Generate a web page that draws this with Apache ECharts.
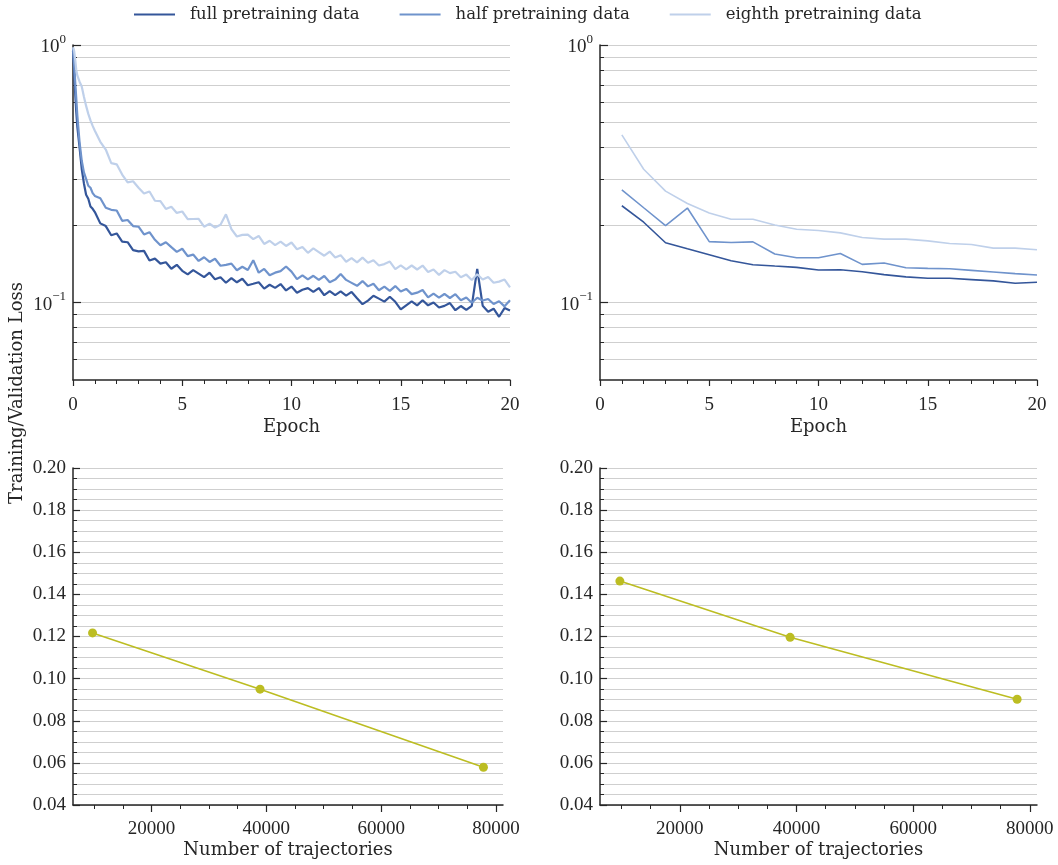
<!DOCTYPE html>
<html>
<head>
<meta charset="utf-8">
<script src="https://cdn.jsdelivr.net/npm/echarts@6/dist/echarts.min.js"></script>
<style>html,body{margin:0;padding:0;background:#fff}#chart{width:1058px;height:865px}</style>
</head>
<body>
<div id="chart"></div>
<script>
// ---------------- data ----------------
const seriesNames = ['full pretraining data', 'half pretraining data', 'eighth pretraining data'];

// training loss (top-left), x = epoch
const epochsFine = [0,0.05,0.1,0.15,0.2,0.3,0.4,0.5,0.6,0.7,0.8,0.9,
  1,1.25,1.5,1.75,2,2.25,2.5,2.75,3,3.25,3.5,3.75,4,4.25,4.5,4.75,5,5.25,5.5,5.75,
  6,6.25,6.5,6.75,7,7.25,7.5,7.75,8,8.25,8.5,8.75,9,9.25,9.5,9.75,10,10.25,10.5,10.75,
  11,11.25,11.5,11.75,12,12.25,12.5,12.75,13,13.25,13.5,13.75,14,14.25,14.5,14.75,
  15,15.25,15.5,15.75,16,16.25,16.5,16.75,17,17.25,17.5,17.75,18,18.25,18.5,18.75,
  19,19.25,19.5,19.75,20];
const fullTrain = [0.95,0.8,0.65,0.55,0.48,0.40,0.33,0.29,0.262,0.253,0.236,0.231,
  0.2244,0.2029,0.1980,0.1824,0.1854,0.1723,0.1714,0.1597,0.158,0.1586,
  0.1455,0.1480,0.1416,0.1433,0.1352,0.1401,0.1327,0.1285,0.1336,0.1295,
  0.1254,0.1305,0.1230,0.1254,0.1193,0.1244,0.1198,0.1236,0.1166,0.1182,
  0.1199,0.1132,0.1172,0.1140,0.1179,0.1114,0.1153,0.1091,0.112,0.1137,
  0.1099,0.1138,0.1067,0.1106,0.1068,0.1104,0.1064,0.1099,0.1039,0.0985,
  0.1017,0.1062,0.1035,0.1008,0.1053,0.1006,0.094,0.0975,0.1010,0.0975,
  0.1020,0.0975,0.1000,0.0956,0.097,0.0995,0.0933,0.0969,0.0936,0.0970,
  0.135,0.0972,0.0921,0.0946,0.088,0.0951,0.093];
const halfTrain = [0.97,0.85,0.72,0.62,0.53,0.42,0.355,0.32,0.302,0.284,0.279,0.266,
  0.2594,0.2540,0.2332,0.229,0.2276,0.2076,0.2091,0.198,0.1969,0.1838,
  0.1875,0.1752,0.1668,0.1714,0.164,0.1573,0.1617,0.1514,0.1535,0.1450,
  0.1499,0.1437,0.1478,0.1389,0.140,0.1415,0.1334,0.1376,0.1337,0.146,
  0.1305,0.1350,0.1276,0.1306,0.1324,0.138,0.1318,0.1233,0.1275,0.1229,
  0.1270,0.1225,0.1267,0.1198,0.1227,0.129,0.1224,0.1192,0.1161,0.1211,
  0.1155,0.1182,0.1116,0.1152,0.1109,0.1158,0.1104,0.1129,0.1078,0.1092,
  0.1118,0.1046,0.1082,0.1044,0.1079,0.1041,0.1077,0.1020,0.1045,0.0998,
  0.1043,0.1018,0.1032,0.0987,0.1011,0.0966,0.1020];
const eighthTrain = [0.98,0.95,0.88,0.80,0.76,0.72,0.69,0.63,0.58,0.54,0.51,0.485,
  0.4646,0.4208,0.3927,0.3479,0.3440,0.3138,0.2929,0.2958,0.279,0.2651,
  0.2699,0.2484,0.2475,0.2309,0.2356,0.2228,0.2256,0.2107,0.211,0.2111,
  0.1969,0.2022,0.1955,0.2005,0.22,0.1928,0.1804,0.183,0.1836,0.1762,
  0.1813,0.1688,0.1737,0.1671,0.1724,0.1658,0.1710,0.1609,0.1641,0.1559,
  0.1622,0.157,0.1519,0.1576,0.1495,0.1527,0.1440,0.1487,0.1431,0.1494,
  0.1426,0.1459,0.1392,0.141,0.1442,0.1348,0.1394,0.1345,0.1392,0.1343,
  0.1391,0.1313,0.1343,0.1280,0.1336,0.130,0.1316,0.1254,0.1283,0.1222,
  0.1288,0.1228,0.1255,0.1193,0.1205,0.1228,0.1145];

// validation loss (top-right)
const epochsVal = [1,2,3,4,5,6,7,8,9,10,11,12,13,14,15,16,17,18,19,20];
const fullVal = [0.2375,0.205,0.1706,0.1616,0.1532,0.1453,0.1402,0.1385,0.1369,0.1337,0.1341,0.1317,0.1283,0.1257,0.1242,0.1242,0.1227,0.1213,0.1188,0.1198];
const halfVal = [0.274,0.2333,0.1988,0.2327,0.1724,0.171,0.172,0.1542,0.1492,0.1492,0.155,0.1406,0.1423,0.1365,0.1357,0.1353,0.1333,0.1313,0.1294,0.1279];
const eighthVal = [0.4478,0.3292,0.2706,0.2425,0.2226,0.2104,0.2104,0.2001,0.1925,0.1903,0.1864,0.1788,0.1762,0.1762,0.1735,0.1694,0.1679,0.1626,0.1626,0.1602];

// loss vs number of trajectories (bottom)
const trajectories = [9728, 38912, 77824];
const lossLeft = [0.1217, 0.095, 0.0579];
const lossRight = [0.1463, 0.1196, 0.0902];

// tick values
const logMajorTicks = [0.1, 1];
const logMinorTicks = [0.06,0.07,0.08,0.09,0.2,0.3,0.4,0.5,0.6,0.7,0.8,0.9];
const trajMajorTicks = [20000, 40000, 60000, 80000];
const trajMinorTicks = [10000,15000,25000,30000,35000,45000,50000,55000,65000,70000,75000];

// ---------------- style ----------------
const colors = ['#34569a', '#6f93cc', '#bfd0ea'];
const olive = '#bcbd22';
const txt = '#262626';
const gridCol = '#cfcfcf';
const numFont = 'Liberation Serif';
const wordFont = 'DejaVu Serif';

const pairs = (xs, ys) => xs.map((x, i) => [x, ys[i]]);

function epochAxis(gi) {
  return {
    type: 'value', gridIndex: gi, min: 0, max: 20, interval: 5, position: 'bottom',
    name: 'Epoch', nameLocation: 'middle', nameGap: 38,
    nameTextStyle: { fontFamily: wordFont, fontSize: 18, color: txt },
    axisLine: { lineStyle: { color: txt, width: 1.5 } },
    axisTick: { length: 6, lineStyle: { color: txt, width: 1.2 } },
    minorTick: { show: true, splitNumber: 5, length: 4, lineStyle: { color: txt, width: 1 } },
    axisLabel: { margin: 16, fontFamily: numFont, fontSize: 19, color: txt },
    splitLine: { show: false }
  };
}
function trajAxis(gi) {
  return {
    type: 'value', gridIndex: gi, min: 6323, max: 81229, position: 'bottom',
    name: 'Number of trajectories', nameLocation: 'middle', nameGap: 36,
    nameTextStyle: { fontFamily: wordFont, fontSize: 18, color: txt },
    axisLine: { lineStyle: { color: txt, width: 1.5 } },
    axisTick: { length: 7, customValues: trajMajorTicks, lineStyle: { color: txt, width: 1.2 } },
    axisLabel: { margin: 15, customValues: trajMajorTicks, fontFamily: numFont, fontSize: 19, color: txt,
      formatter: v => String(Math.round(v)) },
    splitLine: { show: false }
  };
}
function trajMinorAxis(gi) {
  return {
    type: 'value', gridIndex: gi, min: 6323, max: 81229, position: 'bottom',
    axisLine: { show: false },
    axisTick: { length: 4, customValues: trajMinorTicks, lineStyle: { color: txt, width: 1 } },
    axisLabel: { show: false },
    splitLine: { show: false }
  };
}
function logAxis(gi) {
  return {
    type: 'log', logBase: 10, gridIndex: gi, min: 0.05, max: 1, position: 'left',
    axisLine: { show: true, lineStyle: { color: txt, width: 1.5 } },
    axisTick: { inside: true, length: 8, customValues: logMajorTicks, lineStyle: { color: txt, width: 1.2 } },
    axisLabel: {
      margin: 7, customValues: logMajorTicks, color: txt,
      formatter: v => v > 0.5 ? '{b|10}{s|0}' : '{b|10}{s|\u22121}',
      rich: {
        b: { fontFamily: numFont, fontSize: 19, color: txt, lineHeight: 24, verticalAlign: 'bottom' },
        s: { fontFamily: numFont, fontSize: 13, color: txt, lineHeight: 14, verticalAlign: 'top' }
      }
    },
    splitLine: { show: true, lineStyle: { color: gridCol, width: 1 } }
  };
}
function logMinorAxis(gi) {
  return {
    type: 'log', logBase: 10, gridIndex: gi, min: 0.05, max: 1, position: 'left',
    axisLine: { show: false },
    axisTick: { inside: true, length: 4, customValues: logMinorTicks, lineStyle: { color: txt, width: 1 } },
    axisLabel: { show: false },
    splitLine: { show: true, lineStyle: { color: gridCol, width: 1 } }
  };
}
function lossAxis(gi) {
  return {
    type: 'value', gridIndex: gi, min: 0.04, max: 0.20, interval: 0.02, position: 'left',
    axisLine: { show: true, lineStyle: { color: txt, width: 1.5 } },
    axisTick: { inside: true, length: 7, lineStyle: { color: txt, width: 1.2 } },
    minorTick: { show: true, splitNumber: 4, length: 4, lineStyle: { color: txt, width: 1 } },
    axisLabel: { margin: 7, fontFamily: numFont, fontSize: 19, color: txt, formatter: v => v.toFixed(2) },
    splitLine: { show: true, lineStyle: { color: gridCol, width: 1 } },
    minorSplitLine: { show: true, lineStyle: { color: gridCol, width: 1 } }
  };
}

const chart = echarts.init(document.getElementById('chart'), null, { renderer: 'canvas' });
const trainSets = [fullTrain, halfTrain, eighthTrain];
const valSets = [fullVal, halfVal, eighthVal];

const series = [];
trainSets.forEach((d, k) => series.push({
  name: seriesNames[k], type: 'line', xAxisIndex: 0, yAxisIndex: 0,
  data: pairs(epochsFine, d), symbol: 'none', color: colors[k],
  lineStyle: { width: 2.2, color: colors[k] }, z: 3 + k
}));
valSets.forEach((d, k) => series.push({
  name: seriesNames[k], type: 'line', xAxisIndex: 1, yAxisIndex: 1,
  data: pairs(epochsVal, d), symbol: 'none', color: colors[k],
  lineStyle: { width: 1.6, color: colors[k] }, z: 3 + k
}));
series.push({
  type: 'line', xAxisIndex: 2, yAxisIndex: 2, data: pairs(trajectories, lossLeft),
  symbol: 'circle', symbolSize: 9, color: olive,
  lineStyle: { width: 1.6, color: olive }, itemStyle: { color: olive }
});
series.push({
  type: 'line', xAxisIndex: 3, yAxisIndex: 3, data: pairs(trajectories, lossRight),
  symbol: 'circle', symbolSize: 9, color: olive,
  lineStyle: { width: 1.6, color: olive }, itemStyle: { color: olive }
});

chart.setOption({
  animation: false,
  backgroundColor: '#ffffff',
  legend: {
    data: seriesNames.map((n, k) => ({ name: n, icon: 'rect', itemStyle: { color: colors[k] } })),
    top: 6, left: 134, padding: 0, itemWidth: 41, itemHeight: 2, itemGap: 40,
    textStyle: { fontFamily: wordFont, fontSize: 16.5, color: txt, padding: [0, 0, 0, 10] }
  },
  graphic: [{
    type: 'text', x: 17, y: 393, rotation: Math.PI / 2,
    style: { text: 'Training/Validation Loss', font: '18px "DejaVu Serif"', fill: txt,
      align: 'center', verticalAlign: 'middle', textAlign: 'center', textVerticalAlign: 'middle' }
  }],
  grid: [
    { left: 73, top: 45, width: 437, height: 335 },
    { left: 600, top: 45, width: 437, height: 335 },
    { left: 73, top: 468, width: 430, height: 337 },
    { left: 600, top: 468, width: 437, height: 337 }
  ],
  xAxis: [epochAxis(0), epochAxis(1), trajAxis(2), trajAxis(3), trajMinorAxis(2), trajMinorAxis(3)],
  yAxis: [logAxis(0), logAxis(1), lossAxis(2), lossAxis(3), logMinorAxis(0), logMinorAxis(1)],
  series: series
});
</script>
</body>
</html>
